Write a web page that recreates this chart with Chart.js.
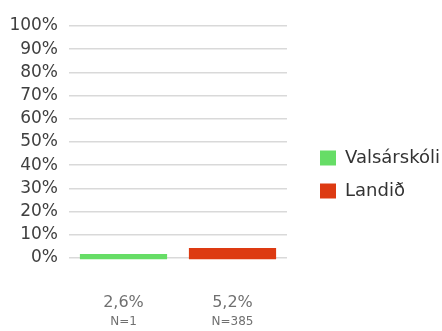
<!DOCTYPE html>
<html>
<head>
<meta charset="utf-8">
<script src="https://cdn.jsdelivr.net/npm/chart.js@4/dist/chart.umd.min.js"></script>
<style>
  html, body { margin: 0; padding: 0; background: #fff; }
  #wrap { width: 442px; height: 331px; }
</style>
</head>
<body>
<div id="wrap"><canvas id="shareChart"></canvas></div>
<script>
const groups = ["Valsárskóli", "Landið"];
const shares = [2.6, 5.2];
const counts = [1, 385];
const colors = ["#66dd66", "#dd3a12"];

const fmt = v => v.toFixed(1).replace(".", ",") + "%";

Chart.defaults.font.family = "'DejaVu Sans', sans-serif";

// one dataset per group so each gets its own legend entry
const datasets = groups.map((g, i) => ({
  label: g,
  data: shares.map((v, j) => (j === i ? v : null)),
  backgroundColor: colors[i],
  clip: false,
  barPercentage: 0.8,
  categoryPercentage: 1
}));

const LEGEND_PAD = 15;

// legend sits 33px clear of the plot, bars hang a touch under the zero line
const tweaks = {
  id: "tweaks",
  beforeInit(chart) {
    const fit = chart.legend.fit;
    chart.legend.fit = function () {
      fit.bind(this)();
      this.width = 155;
    };
  },
  afterLayout(chart) {
    chart.legend.left += 33 - LEGEND_PAD;
    chart.legend.top -= 4;
    chart.legend.bottom -= 4;
  },
  beforeDatasetsDraw(chart) {
    chart.ctx.save();
    chart.ctx.translate(0, 2);
  },
  afterDatasetsDraw(chart) {
    chart.ctx.restore();
  }
};

new Chart(document.getElementById("shareChart"), {
  type: "bar",
  data: {
    labels: shares.map(fmt),
    datasets: datasets
  },
  options: {
    responsive: true,
    maintainAspectRatio: false,
    animation: false,
    skipNull: true,
    layout: { padding: { top: 26, right: 0, left: 0, bottom: 0 } },
    plugins: {
      legend: {
        position: "right",
        labels: {
          boxWidth: 16,
          boxHeight: 15,
          padding: LEGEND_PAD,
          color: "#333",
          font: { size: 18 }
        }
      },
      tooltip: { enabled: false }
    },
    scales: {
      x: {
        grid: { display: false, drawTicks: false },
        border: { display: false },
        ticks: { color: "#707070", font: { size: 16 }, padding: 35 },
        afterFit: s => { s.height = 53; }
      },
      x2: {
        type: "category",
        labels: counts.map(n => "N=" + n),
        position: "bottom",
        offset: true,
        grid: { display: false, drawTicks: false },
        border: { display: false },
        ticks: { color: "#707070", font: { size: 12 }, padding: 4 },
        afterFit: s => { s.height = 20; }
      },
      y: {
        min: 0,
        max: 100,
        grid: { color: "#d9d9d9", lineWidth: 1.5, drawTicks: false },
        border: { display: false },
        ticks: {
          stepSize: 10,
          autoSkip: false,
          padding: 11,
          color: "#404040",
          font: { size: 17 },
          callback: v => v + "%"
        },
        afterFit: s => { s.width = 69; }
      }
    }
  },
  plugins: [tweaks]
});
</script>
</body>
</html>
